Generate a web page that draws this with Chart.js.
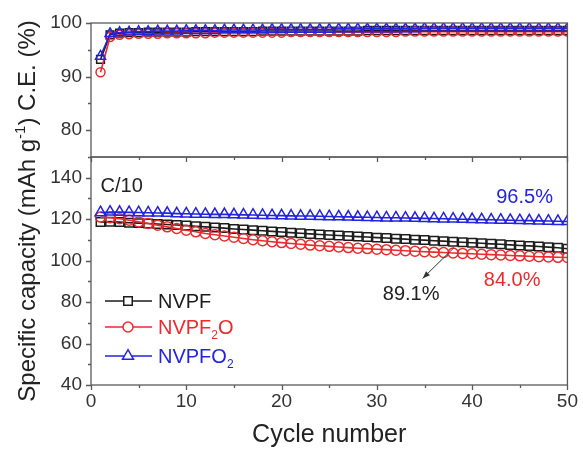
<!DOCTYPE html>
<html>
<head>
<meta charset="utf-8">
<script src="https://cdn.jsdelivr.net/npm/chart.js@4.4.0/dist/chart.umd.min.js"></script>
<style>
  html, body { margin: 0; padding: 0; background: #fff; }
  #wrap { width: 583px; height: 450px; }
</style>
</head>
<body>
<div id="wrap"><canvas id="chart" width="583" height="450"></canvas></div>
<script>
// cycle numbers
const cycles = [1, 2, 3, 4, 5, 6, 7, 8, 9, 10, 11, 12, 13, 14, 15, 16, 17, 18, 19, 20,
  21, 22, 23, 24, 25, 26, 27, 28, 29, 30, 31, 32, 33, 34, 35, 36, 37, 38, 39, 40,
  41, 42, 43, 44, 45, 46, 47, 48, 49, 50]

// specific capacity, mAh/g
const capNVPF = [118.6, 118.8, 118.6, 118.3, 118.1, 117.9, 117.7, 117.4, 117.2, 116.9,
  116.6, 116.3, 116.0, 115.7, 115.3, 115.0, 114.7, 114.4, 114.1, 113.8,
  113.5, 113.2, 112.9, 112.6, 112.4, 112.1, 111.9, 111.6, 111.4, 111.1,
  110.9, 110.6, 110.4, 110.1, 109.9, 109.6, 109.4, 109.1, 108.9, 108.6,
  108.4, 108.1, 107.9, 107.6, 107.3, 107.1, 106.8, 106.5, 106.2, 105.7]
const capNVPF2O = [121.0, 120.7, 120.2, 119.5, 118.7, 117.9, 117.1, 116.3, 115.5, 114.7,
  113.9, 113.1, 112.5, 111.9, 111.3, 110.7, 110.1, 109.6, 109.1, 108.7,
  108.3, 107.9, 107.5, 107.2, 106.9, 106.6, 106.3, 106.0, 105.8, 105.5,
  105.3, 105.0, 104.8, 104.5, 104.3, 104.1, 103.9, 103.7, 103.5, 103.3,
  103.1, 102.9, 102.7, 102.5, 102.3, 102.1, 101.9, 101.8, 101.6, 101.5]
const capNVPFO2 = [123.2, 123.5, 123.4, 123.3, 123.2, 123.1, 123.0, 122.9, 122.7, 122.6,
  122.5, 122.4, 122.3, 122.3, 122.2, 122.1, 122.0, 121.9, 121.8, 121.7,
  121.6, 121.5, 121.5, 121.4, 121.3, 121.2, 121.1, 121.0, 120.9, 120.8,
  120.7, 120.7, 120.6, 120.5, 120.4, 120.3, 120.2, 120.1, 120.0, 119.9,
  119.8, 119.7, 119.6, 119.5, 119.4, 119.3, 119.2, 119.1, 119.0, 118.9]

// coulombic efficiency, %
const ceNVPF = [93.2, 97.8, 98.1, 98.2, 98.2, 98.3, 98.3, 98.3, 98.3, 98.3,
  98.4, 98.4, 98.4, 98.4, 98.4, 98.4, 98.4, 98.5, 98.5, 98.5,
  98.5, 98.5, 98.5, 98.5, 98.5, 98.5, 98.5, 98.5, 98.6, 98.6,
  98.6, 98.6, 98.6, 98.6, 98.6, 98.6, 98.6, 98.6, 98.6, 98.6,
  98.6, 98.6, 98.6, 98.6, 98.6, 98.6, 98.6, 98.6, 98.6, 98.6]
const ceNVPF2O = [90.8, 97.4, 97.8, 97.9, 98.0, 98.0, 98.0, 98.1, 98.1, 98.1,
  98.1, 98.1, 98.2, 98.2, 98.2, 98.2, 98.2, 98.2, 98.2, 98.2,
  98.3, 98.3, 98.3, 98.3, 98.3, 98.3, 98.3, 98.3, 98.3, 98.3,
  98.3, 98.3, 98.4, 98.4, 98.4, 98.4, 98.4, 98.4, 98.4, 98.4,
  98.4, 98.4, 98.4, 98.4, 98.4, 98.4, 98.4, 98.4, 98.4, 98.4]
const ceNVPFO2 = [93.8, 98.0, 98.2, 98.3, 98.4, 98.4, 98.5, 98.5, 98.5, 98.6,
  98.6, 98.6, 98.6, 98.7, 98.7, 98.7, 98.7, 98.7, 98.8, 98.8,
  98.8, 98.8, 98.8, 98.8, 98.8, 98.9, 98.9, 98.9, 98.9, 98.9,
  98.9, 98.9, 98.9, 98.9, 99.0, 99.0, 99.0, 99.0, 99.0, 99.0,
  99.0, 99.0, 99.0, 99.0, 99.0, 99.0, 99.0, 99.0, 99.0, 99.0]

// tick labels
const cycleTicks = [0, 10, 20, 30, 40, 50]
const ceTicks = [80, 90, 100]
const capTicks = [40, 60, 80, 100, 120, 140]

const FONT = '"Liberation Sans", Arial, sans-serif'
const BLACK = '#1c1c1c'
const RED = '#ec2a2e'
const BLUE = '#2323e0'

const pts = (ys) => cycles.map((c, i) => ({ x: c, y: ys[i] }))

function series(label, ys, axis, color, style, radius, order) {
  return {
    label: label,
    data: pts(ys),
    yAxisID: axis,
    borderColor: color,
    borderWidth: 1.6,
    pointStyle: style,
    pointRadius: radius,
    pointBorderWidth: 1.5,
    pointBorderColor: color,
    pointBackgroundColor: 'rgba(255,255,255,0)',
    backgroundColor: 'rgba(255,255,255,0)',
    tension: 0,
    order: order,
  }
}

// draw text with sub / superscript parts
function drawParts(ctx, parts, x, y, size, color) {
  ctx.fillStyle = color
  ctx.textAlign = 'left'
  ctx.textBaseline = 'alphabetic'
  let cx = x
  parts.forEach((p) => {
    const s = p.sub || p.sup ? Math.round(size * 0.62) : size
    ctx.font = s + 'px ' + FONT
    const dy = p.sub ? size * 0.25 : p.sup ? -size * 0.4 : 0
    ctx.fillText(p.t, cx, y + dy)
    cx += ctx.measureText(p.t).width
  })
}
function partsWidth(ctx, parts, size) {
  let w = 0
  parts.forEach((p) => {
    const s = p.sub || p.sup ? Math.round(size * 0.62) : size
    ctx.font = s + 'px ' + FONT
    w += ctx.measureText(p.t).width
  })
  return w
}

const frame = {
  id: 'frame',
  afterDraw(chart) {
    const ctx = chart.ctx
    const x = chart.scales.x
    const yCE = chart.scales.yCE
    const yCap = chart.scales.yCap
    const L = chart.chartArea.left
    const R = chart.chartArea.right
    ctx.save()

    // panel frames
    ctx.strokeStyle = '#5a5a5a'
    ctx.lineWidth = 1.3
    ctx.strokeRect(L, yCE.top, R - L, yCE.bottom - yCE.top)
    ctx.strokeRect(L, yCap.top, R - L, yCap.bottom - yCap.top)

    // tick marks
    ctx.beginPath()
    for (let v = 0; v <= 50; v += 5) {
      const px = Math.round(x.getPixelForValue(v)) + 0.5
      const len = v % 10 === 0 ? 5 : 3
      ctx.moveTo(px, yCap.bottom)
      ctx.lineTo(px, yCap.bottom + len)
      ctx.moveTo(px, yCE.bottom)
      ctx.lineTo(px, yCE.bottom + len)
    }
    for (let v = 75; v <= 100; v += 5) {
      const py = Math.round(yCE.getPixelForValue(v)) + 0.5
      ctx.moveTo(L, py)
      ctx.lineTo(L - (v % 10 === 0 ? 5 : 3), py)
    }
    for (let v = 40; v <= 150; v += 10) {
      const py = Math.round(yCap.getPixelForValue(v)) + 0.5
      ctx.moveTo(L, py)
      ctx.lineTo(L - (v % 20 === 0 ? 5 : 3), py)
    }
    ctx.stroke()

    // axis titles
    ctx.fillStyle = '#222'
    ctx.font = '25px ' + FONT
    ctx.textAlign = 'center'
    ctx.textBaseline = 'alphabetic'
    ctx.fillText('Cycle number', (L + R) / 2, 442)

    const yTitle = [
      { t: 'Specific capacity (mAh g' },
      { t: '-1', sup: true },
      { t: ') C.E. (%)' },
    ]
    ctx.save()
    ctx.translate(35, 211)
    ctx.rotate(-Math.PI / 2)
    const w = partsWidth(ctx, yTitle, 24)
    drawParts(ctx, yTitle, -w / 2, 0, 24, '#222')
    ctx.restore()

    // annotations
    ctx.font = '20px ' + FONT
    ctx.textBaseline = 'middle'
    ctx.textAlign = 'left'
    ctx.fillStyle = '#222'
    ctx.fillText('C/10', x.getPixelForValue(1), yCap.getPixelForValue(136))
    ctx.textAlign = 'center'
    ctx.fillStyle = BLUE
    ctx.fillText('96.5%', x.getPixelForValue(45.5), yCap.getPixelForValue(130.4))
    ctx.fillStyle = '#222'
    ctx.fillText('89.1%', x.getPixelForValue(33.6), yCap.getPixelForValue(83.7))
    ctx.fillStyle = RED
    ctx.fillText('84.0%', x.getPixelForValue(44.2), yCap.getPixelForValue(90.4))

    // arrow to the NVPF curve
    const ax0 = x.getPixelForValue(38.1), ay0 = yCap.getPixelForValue(106.3)
    const ax1 = x.getPixelForValue(34.8), ay1 = yCap.getPixelForValue(91.4)
    ctx.strokeStyle = '#333'
    ctx.fillStyle = '#333'
    ctx.lineWidth = 1
    ctx.beginPath()
    ctx.moveTo(ax0, ay0)
    ctx.lineTo(ax1, ay1)
    ctx.stroke()
    const ang = Math.atan2(ay1 - ay0, ax1 - ax0)
    ctx.beginPath()
    ctx.moveTo(ax1, ay1)
    ctx.lineTo(ax1 - 8 * Math.cos(ang - 0.35), ay1 - 8 * Math.sin(ang - 0.35))
    ctx.lineTo(ax1 - 8 * Math.cos(ang + 0.35), ay1 - 8 * Math.sin(ang + 0.35))
    ctx.closePath()
    ctx.fill()

    // legend
    const rows = [
      { ds: chart.data.datasets[0], y: 301, parts: [{ t: 'NVPF' }] },
      { ds: chart.data.datasets[1], y: 327, parts: [{ t: 'NVPF' }, { t: '2', sub: true }, { t: 'O' }] },
      { ds: chart.data.datasets[2], y: 356, parts: [{ t: 'NVPFO' }, { t: '2', sub: true }] },
    ]
    rows.forEach((r) => {
      ctx.strokeStyle = r.ds.borderColor
      ctx.lineWidth = 1.6
      ctx.beginPath()
      ctx.moveTo(105, r.y)
      ctx.lineTo(152, r.y)
      ctx.stroke()
      ctx.lineWidth = 1.5
      ctx.fillStyle = '#fff'
      Chart.helpers.drawPoint(ctx, {
        pointStyle: r.ds.pointStyle, radius: r.ds.pointRadius, borderWidth: 1.5, rotation: 0,
      }, 128, r.y)
      drawParts(ctx, r.parts, 158, r.y + 7, 20, r.ds.borderColor)
    })

    ctx.restore()
  },
}

const tickFont = { family: FONT, size: 19 }

new Chart(document.getElementById('chart'), {
  type: 'line',
  data: {
    datasets: [
      series('NVPF', capNVPF, 'yCap', BLACK, 'rect', 6, 3),
      series('NVPF2O', capNVPF2O, 'yCap', RED, 'circle', 5, 2),
      series('NVPFO2', capNVPFO2, 'yCap', BLUE, 'triangle', 6.3, 1),
      series('NVPF', ceNVPF, 'yCE', BLACK, 'rect', 5.5, 3),
      series('NVPF2O', ceNVPF2O, 'yCE', RED, 'circle', 4.5, 2),
      series('NVPFO2', ceNVPFO2, 'yCE', BLUE, 'triangle', 5.8, 1),
    ],
  },
  options: {
    responsive: false,
    animation: false,
    layout: { padding: { top: 23, right: 14, left: 0, bottom: 0 } },
    plugins: { legend: { display: false }, tooltip: { enabled: false } },
    scales: {
      x: {
        type: 'linear',
        min: 0,
        max: 50,
        afterBuildTicks: (s) => { s.ticks = cycleTicks.map((v) => ({ value: v })) },
        afterFit: (s) => { s.height = 65 },
        grid: { display: false, drawTicks: false },
        border: { display: false },
        ticks: { font: tickFont, color: '#333', padding: 5, maxRotation: 0 },
      },
      yCap: {
        type: 'linear',
        position: 'left',
        stack: 'panels',
        stackWeight: 228,
        min: 40,
        max: 150,
        afterBuildTicks: (s) => { s.ticks = capTicks.map((v) => ({ value: v })) },
        afterFit: (s) => { s.width = 91 },
        grid: { display: false, drawTicks: false },
        border: { display: false },
        ticks: { font: tickFont, color: '#333', padding: 9 },
      },
      yCE: {
        type: 'linear',
        position: 'left',
        stack: 'panels',
        stackWeight: 134,
        min: 75,
        max: 100,
        afterBuildTicks: (s) => { s.ticks = ceTicks.map((v) => ({ value: v })) },
        afterFit: (s) => { s.width = 91 },
        grid: { display: false, drawTicks: false },
        border: { display: false },
        ticks: { font: tickFont, color: '#333', padding: 9 },
      },
    },
  },
  plugins: [frame],
})
</script>
</body>
</html>
